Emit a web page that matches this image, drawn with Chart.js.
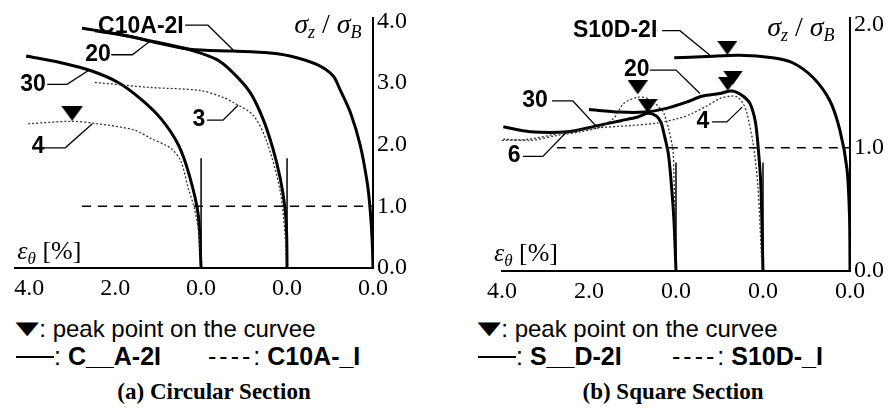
<!DOCTYPE html>
<html>
<head>
<meta charset="utf-8">
<script src="https://cdn.jsdelivr.net/npm/chart.js@4.4.1/dist/chart.umd.min.js"></script>
<style>
  body { margin: 0; width: 896px; height: 414px; background: #fff; position: relative; overflow: hidden; }
  canvas { position: absolute; top: 0; }
  #chartA { left: 0; }
  #chartB { left: 440px; }
  .txt { position: absolute; white-space: nowrap; line-height: 1; color: #000;
         font-family: "Liberation Sans", Arial, sans-serif; font-size: 25px; }
  .small { font-size: 24px; }
  .tri { display: inline-block; font-family: "DejaVu Sans", sans-serif; font-size: 29px;
         transform: scale(1.05, 0.62); transform-origin: 50% 60%; margin-right: 1px; }
  .dash { letter-spacing: 3px; }
  .rule { display: inline-block; width: 38px; border-top: 2px solid #000; vertical-align: middle; margin-top: -3px; }
  .cap { position: absolute; white-space: nowrap; line-height: 1; color: #000;
         font-family: "Liberation Serif", "Times New Roman", serif; font-weight: bold; font-size: 23px;
         transform: translateX(-50%); }
</style>
</head>
<body>
<canvas id="chartA" width="430" height="300"></canvas>
<canvas id="chartB" width="456" height="300"></canvas>

<div class="txt small" style="left:16px;top:313px"><span class="tri">▼</span>: peak point on the curvee</div>
<div class="txt" style="left:16px;top:344px"><span class="rule"></span>: <b>C__A-2I</b></div>
<div class="txt" style="left:208px;top:344px"><span class="dash">----</span>: <b>C10A-_I</b></div>
<div class="cap" style="left:214px;top:380px">(a) Circular Section</div>

<div class="txt small" style="left:478px;top:313px"><span class="tri">▼</span>: peak point on the curvee</div>
<div class="txt" style="left:478px;top:344px"><span class="rule"></span>: <b>S__D-2I</b></div>
<div class="txt" style="left:672px;top:344px"><span class="dash">----</span>: <b>S10D-_I</b></div>
<div class="cap" style="left:673px;top:380px">(b) Square Section</div>

<script>
// values: hoop strain eps_theta [%] and sigma_z / sigma_B
// every curve is measured from its own origin; the groups are shifted by 2.0 %

// (a) circular section
const c10a2i_eps = [6.47, 5.60, 5.19, 4.26, 3.26, 2.40, 1.93, 1.30, 0.93, 0.77, 0.53, 0.30, 0.14, 0.07, 0.02, 0];
const c10a2i_sig = [3.85, 3.75, 3.68, 3.55, 3.52, 3.49, 3.44, 3.30, 3.12, 2.90, 2.53, 2.00, 1.41, 0.98, 0.45, 0];
const c20a2i_eps = [4.77, 3.88, 3.14, 2.26, 1.63, 1.26, 0.86, 0.56, 0.33, 0.16, 0.05, 0.01, 0];
const c20a2i_sig = [3.89, 3.79, 3.68, 3.54, 3.38, 3.17, 2.85, 2.42, 1.94, 1.46, 0.98, 0.56, 0];
const c30a2i_eps = [4.07, 3.26, 2.56, 1.93, 1.40, 0.93, 0.53, 0.28, 0.07, 0];
const c30a2i_sig = [3.44, 3.33, 3.20, 3.01, 2.74, 2.42, 2.00, 1.52, 0.88, 0];
const c10a3i_eps = [4.47, 3.19, 2.02, 1.49, 1.26, 0.79, 0.47, 0.16, 0.05, 0];
const c10a3i_sig = [3.01, 2.93, 2.88, 2.77, 2.69, 2.48, 2.05, 1.25, 0.56, 0];
const c10a4i_eps = [4.02, 3.02, 2.40, 1.56, 1.16, 0.70, 0.47, 0.30, 0.16, 0.05, 0];
const c10a4i_sig = [2.34, 2.38, 2.34, 2.24, 2.10, 1.94, 1.73, 1.30, 0.98, 0.56, 0];
const peakA_eps = [3.00];
const peakA_sig = [2.51];
const peakA_grp = [4];

// (b) square section
const s10d2i_eps = [4.04, 3.30, 2.54, 1.78, 1.32, 0.85, 0.46, 0.23, 0.07, 0.01, 0];
const s10d2i_sig = [1.73, 1.74, 1.75, 1.73, 1.69, 1.57, 1.38, 1.14, 0.83, 0.43, 0];
const s20d2i_eps = [4.00, 3.30, 2.73, 2.22, 1.76, 1.39, 1.00, 0.76, 0.60, 0.46, 0.30, 0.18, 0.12, 0.05, 0];
const s20d2i_sig = [1.31, 1.29, 1.29, 1.32, 1.37, 1.42, 1.44, 1.46, 1.45, 1.42, 1.36, 1.22, 1.04, 0.70, 0];
const s30d2i_eps = [3.97, 3.35, 2.49, 1.80, 1.27, 0.88, 0.65, 0.46, 0.35, 0.28, 0.18, 0.12, 0.05, 0];
const s30d2i_sig = [1.17, 1.13, 1.13, 1.18, 1.22, 1.25, 1.28, 1.26, 1.21, 1.12, 0.96, 0.76, 0.43, 0];
const s10d4i_eps = [6.00, 5.38, 4.62, 3.83, 3.07, 2.45, 1.92, 1.62, 1.29, 0.99, 0.72, 0.58, 0.46, 0.37, 0.23, 0.12, 0.02];
const s10d4i_sig = [1.06, 1.07, 1.12, 1.16, 1.18, 1.20, 1.24, 1.28, 1.34, 1.40, 1.42, 1.41, 1.36, 1.28, 1.04, 0.70, 0];
const s10d6i_eps = [3.97, 3.35, 2.73, 2.19, 1.73, 1.43, 1.20, 0.88, 0.65, 0.42, 0.28, 0.16, 0.07, 0.05, 0.02, 0];
const s10d6i_sig = [1.07, 1.06, 1.10, 1.13, 1.17, 1.24, 1.36, 1.41, 1.40, 1.34, 1.28, 1.14, 0.98, 0.80, 0.43, 0];
const peakB_eps = [0.65, 0.88, 0.69, 0.81, 2.82];
const peakB_sig = [1.34, 1.49, 1.57, 1.52, 1.81];
const peakB_grp = [4, 4, 2, 2, 0];

// axes
const xTickVals = [0, 2, 4, 6, 8];
const xTickText = ['0.0', '0.0', '0.0', '2.0', '4.0'];
const yTicksA = [0, 1, 2, 3, 4];
const yTicksB = [0, 1, 2];
const unitLine = 1.0;          // sigma_z / sigma_B = 1
const originBarA = 1.78;       // short vertical bars at the shifted origins
const originBarB = 0.88;

function pts(eps, sig, shift) {
  return eps.map((e, i) => ({ x: e + shift, y: sig[i] }));
}

function solid(data) {
  return { data, showLine: true, borderColor: '#000', borderWidth: 3, pointRadius: 0, tension: 0.3 };
}
function dotted(data) {
  return { data, showLine: true, borderColor: '#333', borderWidth: 1.3, borderDash: [2, 2], pointRadius: 0, tension: 0.3 };
}
function guide(data, dash, w) {
  return { data, showLine: true, borderColor: '#000', borderWidth: w, borderDash: dash, pointRadius: 0, tension: 0 };
}

function triangle(w, h) {
  const c = document.createElement('canvas');
  c.width = w; c.height = h;
  const g = c.getContext('2d');
  g.fillStyle = '#000';
  g.beginPath(); g.moveTo(0, 0); g.lineTo(w, 0); g.lineTo(w / 2, h); g.closePath(); g.fill();
  return c;
}

function peaks(eps, sig, grp, img) {
  return { data: eps.map((e, i) => ({ x: e + grp[i], y: sig[i] })), showLine: false,
           pointStyle: img, pointRadius: 10, borderWidth: 0 };
}

// rich text for the axis names (italic greek with subscripts)
function rich(ctx, cx, base, size, parts) {
  const sub = Math.round(size * 0.65);
  const fontOf = p => (p[1] ? 'italic ' : '') + (p[2] ? sub : size) + 'px "Liberation Serif", serif';
  let w = 0;
  parts.forEach(p => { ctx.font = fontOf(p); w += ctx.measureText(p[0]).width; });
  let x = cx - w / 2;
  ctx.textAlign = 'left';
  ctx.textBaseline = 'alphabetic';
  parts.forEach(p => {
    ctx.font = fontOf(p);
    ctx.fillText(p[0], x, base + (p[2] ? 5 : 0));
    x += ctx.measureText(p[0]).width;
  });
}

function notes(id, labels, sigPos, epsPos) {
  return {
    id: id,
    afterDraw(chart) {
      const ctx = chart.ctx, sx = chart.scales.x, sy = chart.scales.y;
      const P = (u, v) => [sx.getPixelForValue(u), sy.getPixelForValue(v)];
      ctx.save();
      ctx.fillStyle = '#000';
      ctx.strokeStyle = '#000';
      ctx.lineWidth = 1.3;
      labels.forEach(l => {
        ctx.beginPath();
        l.lead.forEach((q, i) => {
          const p = P(q[0], q[1]);
          if (i === 0) ctx.moveTo(p[0], p[1]); else ctx.lineTo(p[0], p[1]);
        });
        ctx.stroke();
        const p = P(l.u, l.y);
        ctx.font = 'bold 23px "Liberation Sans", Arial, sans-serif';
        ctx.textAlign = 'center';
        ctx.textBaseline = 'middle';
        ctx.fillText(l.t, p[0], p[1]);
      });
      let p = P(sigPos[0], sigPos[1]);
      rich(ctx, p[0], p[1], 28, [['σ', 1, 0], ['z', 1, 1], [' / ', 0, 0], ['σ', 1, 0], ['B', 1, 1]]);
      p = P(epsPos[0], epsPos[1]);
      rich(ctx, p[0], p[1], 26, [['ε', 1, 0], ['θ', 1, 1], [' [%]', 0, 0]]);
      ctx.restore();
    }
  };
}

function build(id, o) {
  const tickFont = { family: '"Liberation Serif", "Times New Roman", serif', size: 24 };
  return new Chart(document.getElementById(id), {
    type: 'scatter',
    data: { datasets: o.datasets },
    options: {
      responsive: false,
      animation: false,
      events: [],
      layout: { padding: { left: o.padL, top: o.padT, right: 0, bottom: 0 } },
      plugins: { legend: { display: false }, tooltip: { enabled: false } },
      scales: {
        x: {
          type: 'linear', reverse: true, min: 0, max: o.xMax,
          afterBuildTicks: s => { s.ticks = xTickVals.map(v => ({ value: v })); },
          afterFit: s => { s.height = o.xH; },
          grid: { display: false, drawTicks: false },
          border: { display: true, color: '#000', width: 2 },
          ticks: { padding: 6, color: '#000', font: tickFont, maxRotation: 0, autoSkip: false,
                   callback: v => xTickText[xTickVals.indexOf(v)] }
        },
        y: {
          type: 'linear', position: 'right', min: 0, max: o.yMax,
          afterBuildTicks: s => { s.ticks = o.yTicks.map(v => ({ value: v })); },
          afterFit: s => { s.width = o.yW; },
          grid: { display: false, drawTicks: false },
          border: { display: true, color: '#000', width: 2 },
          ticks: { padding: 4, color: '#000', font: tickFont, callback: v => v.toFixed(1) }
        }
      }
    },
    plugins: [notes(id + 'Notes', o.labels, o.sigPos, o.epsPos)]
  });
}

// (a) circular section
build('chartA', {
  padL: 15, padT: 15, xH: 32, yW: 57, xMax: 8.33, yMax: 4.05, yTicks: yTicksA,
  datasets: [
    guide([{ x: 6.77, y: unitLine }, { x: 0, y: unitLine }], [9, 7], 1.5),
    guide([{ x: 4, y: 0 }, { x: 4, y: originBarA }], [], 1.5),
    guide([{ x: 2, y: 0 }, { x: 2, y: originBarA }], [], 1.5),
    dotted(pts(c10a3i_eps, c10a3i_sig, 2)),
    dotted(pts(c10a4i_eps, c10a4i_sig, 4)),
    solid(pts(c30a2i_eps, c30a2i_sig, 4)),
    solid(pts(c20a2i_eps, c20a2i_sig, 2)),
    solid(pts(c10a2i_eps, c10a2i_sig, 0)),
    peaks(peakA_eps, peakA_sig, peakA_grp, triangle(22, 15))
  ],
  labels: [
    { t: 'C10A-2I', u: 5.40, y: 3.92, lead: [[4.37, 3.94], [3.84, 3.94], [3.26, 3.54]] },
    { t: '20', u: 6.40, y: 3.46, lead: [[6.09, 3.46], [5.60, 3.46], [5.19, 3.68]] },
    { t: '30', u: 7.91, y: 2.98, lead: [[7.58, 2.98], [7.12, 2.98], [6.63, 3.20]] },
    { t: '3', u: 4.05, y: 2.40, lead: [[3.86, 2.40], [3.49, 2.40], [3.14, 2.64]] },
    { t: '4', u: 7.79, y: 1.97, lead: [[7.65, 1.95], [7.16, 1.95], [6.53, 2.34]] }
  ],
  sigPos: [1.05, 3.82],
  epsPos: [7.53, 0.14]
});

// (b) square section
build('chartB', {
  padL: 62, padT: 13, xH: 29, yW: 46, xMax: 8.0, yMax: 2.05, yTicks: yTicksB,
  datasets: [
    guide([{ x: 6.74, y: unitLine }, { x: 0, y: unitLine }], [9, 7], 1.5),
    guide([{ x: 4, y: 0 }, { x: 4, y: originBarB }], [], 1.5),
    guide([{ x: 2, y: 0 }, { x: 2, y: originBarB }], [], 1.5),
    dotted(pts(s10d4i_eps, s10d4i_sig, 2)),
    dotted(pts(s10d6i_eps, s10d6i_sig, 4)),
    solid(pts(s30d2i_eps, s30d2i_sig, 4)),
    solid(pts(s20d2i_eps, s20d2i_sig, 2)),
    solid(pts(s10d2i_eps, s10d2i_sig, 0)),
    peaks(peakB_eps, peakB_sig, peakB_grp, triangle(20, 14))
  ],
  labels: [
    { t: 'S10D-2I', u: 5.40, y: 1.95, lead: [[4.32, 1.95], [3.91, 1.95], [3.22, 1.75]] },
    { t: '20', u: 4.90, y: 1.63, lead: [[4.60, 1.63], [4.00, 1.63], [3.45, 1.44]] },
    { t: '30', u: 7.24, y: 1.38, lead: [[6.85, 1.38], [6.37, 1.38], [5.82, 1.17]] },
    { t: '4', u: 3.38, y: 1.21, lead: [[3.17, 1.21], [2.83, 1.21], [2.48, 1.33]] },
    { t: '6', u: 7.72, y: 0.94, lead: [[7.52, 0.93], [7.06, 0.93], [6.51, 1.13]] }
  ],
  sigPos: [1.13, 1.91],
  epsPos: [7.45, 0.08]
});
</script>
</body>
</html>
